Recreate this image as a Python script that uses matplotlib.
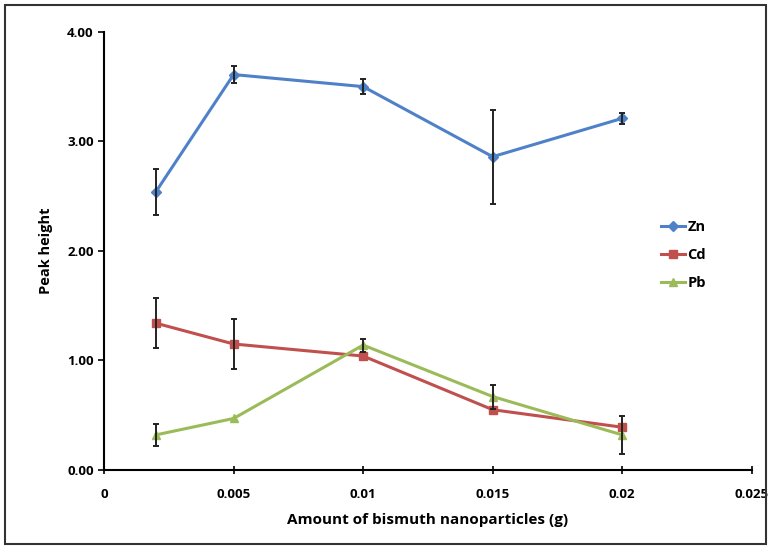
import numpy as np
import matplotlib
matplotlib.use('Agg')
import matplotlib.pyplot as plt
from matplotlib.patches import Rectangle

# data
amount = [0.002, 0.005, 0.01, 0.015, 0.02]
zn = [2.54, 3.61, 3.50, 2.86, 3.21]
zn_err = [0.21, 0.08, 0.07, 0.43, 0.05]
cd = [1.34, 1.15, 1.04, 0.55, 0.39]
cd_err = [0.23, 0.23, 0.0, 0.0, 0.0]
pb = [0.32, 0.47, 1.14, 0.67, 0.32]
pb_err = [0.10, 0.0, 0.06, 0.11, 0.17]

xticks = [0, 0.005, 0.01, 0.015, 0.02, 0.025]
xticklabels = ['0', '0.005', '0.01', '0.015', '0.02', '0.025']
yticks = [0, 1, 2, 3, 4]
yticklabels = ['0.00', '1.00', '2.00', '3.00', '4.00']

plt.rcParams['font.family'] = ['Open Sans', 'DejaVu Sans']

fig = plt.figure(figsize = (7.71, 5.49), dpi = 100)
ax = fig.add_axes([0.135, 0.144, 0.84, 0.798])

fig.patches.append(Rectangle((0.007, 0.009), 0.986, 0.982, transform = fig.transFigure,
                             fill = False, ec = '#333333', lw = 1.5))

series = [('Zn', zn, zn_err, '#4f81c9', 'D', 5),
          ('Cd', cd, cd_err, '#c0504d', 's', 6),
          ('Pb', pb, pb_err, '#9bbb59', '^', 6)]

for nom, val, err, col, mk, ms in series:
    ax.plot(amount, val, color = col, marker = mk, ms = ms, lw = 2.2, label = nom, zorder = 3)
    xs = [a for a, e in zip(amount, err) if e > 0]
    ys = [v for v, e in zip(val, err) if e > 0]
    es = [e for e in err if e > 0]
    ax.errorbar(xs, ys, yerr = es, fmt = 'none', ecolor = '#222222', elinewidth = 1.4,
                capsize = 2.5, capthick = 1.4, zorder = 4)

ax.set_xlim(0, 0.025)
ax.set_ylim(0, 4)
ax.set_xticks(xticks)
ax.set_xticklabels(xticklabels)
ax.set_yticks(yticks)
ax.set_yticklabels(yticklabels)
ax.tick_params(axis = 'x', direction = 'inout', length = 6, width = 1.2, labelsize = 9.5, pad = 10)
ax.tick_params(axis = 'y', direction = 'out', length = 4, width = 1.2, labelsize = 9.5)
for lab in ax.get_xticklabels() + ax.get_yticklabels():
    lab.set_fontweight('bold')

ax.spines['top'].set_visible(False)
ax.spines['right'].set_visible(False)
ax.spines['left'].set_linewidth(1.5)
ax.spines['bottom'].set_linewidth(1.5)

ax.set_xlabel('Amount of bismuth nanoparticles (g)', fontsize = 11, fontweight = 'bold', labelpad = 9)
ax.set_ylabel('Peak height', fontsize = 10.5, fontweight = 'bold', labelpad = 10)

ax.legend(loc = 'center left', bbox_to_anchor = (0.84, 0.49), frameon = False,
          handlelength = 1.6, labelspacing = 0.95, handletextpad = 0.2,
          prop = {'weight': 'bold', 'size': 10.5})

fig.savefig('out.png', dpi = 100)
